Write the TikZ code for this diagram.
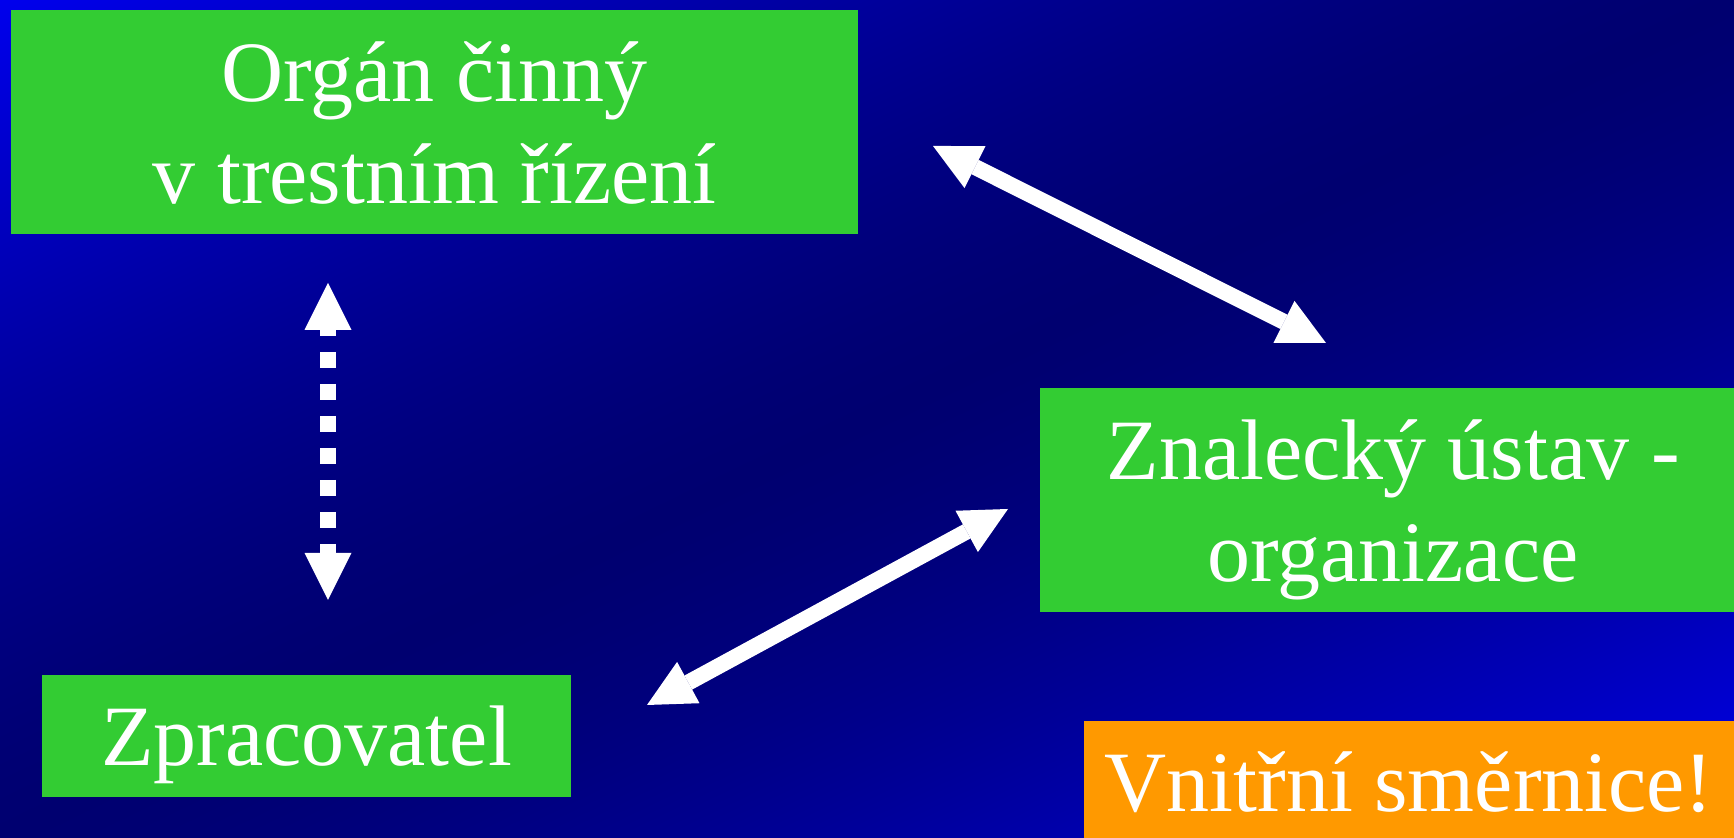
\documentclass[tikz,border=0pt]{standalone}
\usepackage{fontspec}
\setmainfont{Liberation Serif}
\usetikzlibrary{arrows.meta}
\definecolor{zelena}{rgb}{0.2,0.8,0.2}
\definecolor{oranzova}{rgb}{1,0.6,0}
\pgfdeclarefunctionalshading{pozadi}{\pgfpointorigin}{\pgfpoint{100bp}{100bp}}{}{
  25 sub 50 div exch 25 sub 50 div sub abs dup sqrt mul 0.49 mul 0.44 add 0 0 3 -1 roll
}

\begin{document}
\begin{tikzpicture}[x=0.5pt,y=0.5pt,
    ramecek/.style={fill=zelena,text=white,inner sep=0pt,align=center,font=\fontsize{43}{51}\selectfont},
    hrot/.tip={Triangle[width=23.5pt,length=23.5pt,line width=0pt]},
    sipka/.style={white,line width=8pt,hrot-hrot}]

    \shade[shading=pozadi] (0,0) rectangle (1734,838);
    \useasboundingbox (0,0) rectangle (1734,838);

    \node[ramecek,minimum width=423.5pt,minimum height=112pt,text height=82pt,text depth=0pt] (organ) at (434.5,716) {Orgán činný\\v trestním řízení};
    \node[ramecek,minimum width=353pt,minimum height=112pt,text height=82pt,text depth=0pt] (ustav) at (1393,338) {Znalecký ústav -\\organizace};
    \node[ramecek,minimum width=264.5pt,minimum height=61pt,text height=30pt,text depth=0pt] (zpracovatel) at (306.5,102) {Zpracovatel};
    \node[ramecek,fill=oranzova,minimum width=325pt,minimum height=58.5pt,text height=32.5pt,text depth=0pt] (smernice) at (1409,58.5) {Vnitřní směrnice!};

    \coordinate (a1) at (328,555);
    \coordinate (a2) at (328,238);
    \coordinate (b1) at (933,692);
    \coordinate (b2) at (1326,495);
    \coordinate (c1) at (647,133);
    \coordinate (c2) at (1008,329);

    \draw[sipka,dash pattern=on 8pt off 8pt,dash phase=5pt] (a1) -- (a2);
    \draw[sipka] (b1) -- (b2);
    \draw[sipka] (c1) -- (c2);
\end{tikzpicture}
\end{document}
